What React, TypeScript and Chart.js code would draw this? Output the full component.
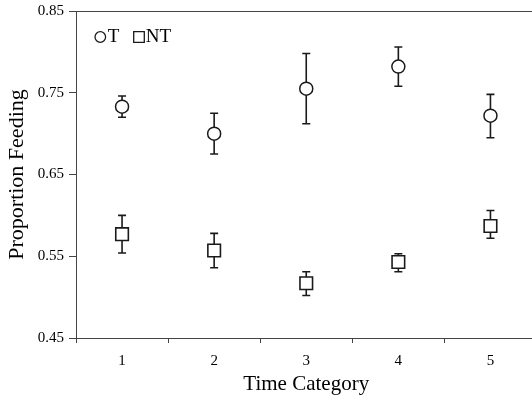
import React, { useEffect, useRef } from "react";
import { Chart, registerables } from "chart.js";

Chart.register(...registerables);

const categories = ["1", "2", "3", "4", "5"];
const tMean = [0.733, 0.700, 0.755, 0.782, 0.722];
const tUpper = [0.746, 0.725, 0.798, 0.806, 0.748];
const tLower = [0.720, 0.675, 0.712, 0.758, 0.695];
const ntMean = [0.577, 0.557, 0.517, 0.543, 0.587];
const ntUpper = [0.600, 0.578, 0.531, 0.553, 0.606];
const ntLower = [0.554, 0.536, 0.502, 0.531, 0.572];
const yTicks = [0.45, 0.55, 0.65, 0.75, 0.85];

const FONT = "'Liberation Serif', 'Times New Roman', serif";
const AXIS = "#444";
const INK = "#1a1a1a";

const errorBars = {
  id: "errorBars",
  beforeDatasetsDraw(chart: any) {
    const { ctx } = chart;
    const x = chart.scales.x;
    const y = chart.scales.y;
    const sets = [
      [tUpper, tLower],
      [ntUpper, ntLower],
    ];
    ctx.save();
    ctx.strokeStyle = INK;
    ctx.lineWidth = 1.6;
    sets.forEach(([up, lo]) => {
      up.forEach((u: number, i: number) => {
        const px = x.getPixelForValue(i);
        const pu = y.getPixelForValue(u);
        const pl = y.getPixelForValue(lo[i]);
        ctx.beginPath();
        ctx.moveTo(px, pu);
        ctx.lineTo(px, pl);
        ctx.moveTo(px - 4, pu);
        ctx.lineTo(px + 4, pu);
        ctx.moveTo(px - 4, pl);
        ctx.lineTo(px + 4, pl);
        ctx.stroke();
      });
    });
    ctx.restore();
  },
};

const frame = {
  id: "frame",
  afterDraw(chart: any) {
    const { ctx, chartArea } = chart;
    ctx.save();
    ctx.strokeStyle = AXIS;
    ctx.lineWidth = 1;
    ctx.beginPath();
    ctx.moveTo(chartArea.left, chartArea.top + 0.5);
    ctx.lineTo(chartArea.right, chartArea.top + 0.5);
    ctx.lineTo(chartArea.right, chartArea.bottom);
    ctx.stroke();
    // legend
    const lx = chartArea.left + 24.3;
    const ly = chartArea.top + 26;
    ctx.fillStyle = "#fff";
    ctx.strokeStyle = INK;
    ctx.lineWidth = 1.3;
    ctx.beginPath();
    ctx.arc(lx, ly, 5.3, 0, Math.PI * 2);
    ctx.fill();
    ctx.stroke();
    ctx.fillStyle = "#000";
    ctx.font = `19px ${FONT}`;
    ctx.textBaseline = "middle";
    ctx.textAlign = "left";
    const labels = chart.data.datasets.map((d: any) => d.label);
    ctx.fillText(labels[0], lx + 7.4, ly + 0.5);
    const sx = lx + 38.7;
    ctx.fillStyle = "#fff";
    ctx.beginPath();
    ctx.rect(sx - 5.3, ly - 5.3, 10.6, 10.6);
    ctx.fill();
    ctx.stroke();
    ctx.fillStyle = "#000";
    ctx.fillText(labels[1], sx + 6.7, ly + 0.5);
    ctx.restore();
  },
};

export default function App() {
  const ref = useRef<HTMLCanvasElement | null>(null);
  useEffect(() => {
    if (!ref.current) return;
    const chart = new Chart(ref.current, {
      type: "line",
      data: {
        labels: categories,
        datasets: [
          {
            label: "T",
            data: tMean,
            showLine: false,
            pointStyle: "circle",
            pointRadius: 6.5,
            pointBorderWidth: 1.5,
            pointBackgroundColor: "#fff",
            pointBorderColor: INK,
          },
          {
            label: "NT",
            data: ntMean,
            showLine: false,
            pointStyle: "rect",
            pointRadius: 8.9,
            pointBorderWidth: 1.6,
            pointBackgroundColor: "#fff",
            pointBorderColor: INK,
          },
        ],
      },
      options: {
        responsive: false,
        animation: false,
        layout: { padding: { top: 11, right: 4, left: 0, bottom: 0 } },
        plugins: {
          legend: { display: false },
          tooltip: { enabled: false },
        },
        scales: {
          x: {
            type: "category",
            offset: true,
            grid: {
              offset: true,
              drawOnChartArea: false,
              drawTicks: true,
              tickLength: 5,
              color: AXIS,
            },
            border: { color: AXIS, width: 1 },
            ticks: {
              color: "#000",
              font: { family: FONT, size: 15 },
              padding: 9,
            },
            title: {
              display: true,
              text: "Time Category",
              color: "#000",
              font: { family: FONT, size: 21 },
              padding: { top: 0, bottom: 8 },
            },
            afterFit: (s: any) => {
              s.height = 67;
            },
          },
          y: {
            min: 0.45,
            max: 0.85,
            afterBuildTicks: (s: any) => {
              s.ticks = yTicks.map((v) => ({ value: v }));
            },
            grid: {
              drawOnChartArea: false,
              drawTicks: true,
              tickLength: 7,
              color: AXIS,
            },
            border: { color: AXIS, width: 1 },
            ticks: {
              color: "#000",
              font: { family: FONT, size: 15, lineHeight: 0.8 },
              padding: 5,
              callback: (v: any) => Number(v).toFixed(2),
            },
            title: {
              display: true,
              text: "Proportion Feeding",
              color: "#000",
              font: { family: FONT, size: 22 },
              padding: { top: 4, bottom: 0 },
            },
            afterFit: (s: any) => {
              s.width = 76;
            },
          },
        },
      },
      plugins: [errorBars, frame],
    });
    return () => chart.destroy();
  }, []);
  return (
    <div
      style={{
        position: "absolute",
        left: 0,
        top: 0,
        width: 532,
        height: 405,
        overflow: "hidden",
        background: "#fff",
      }}
    >
      <canvas ref={ref} width={547} height={405} style={{ display: "block" }} />
    </div>
  );
}
